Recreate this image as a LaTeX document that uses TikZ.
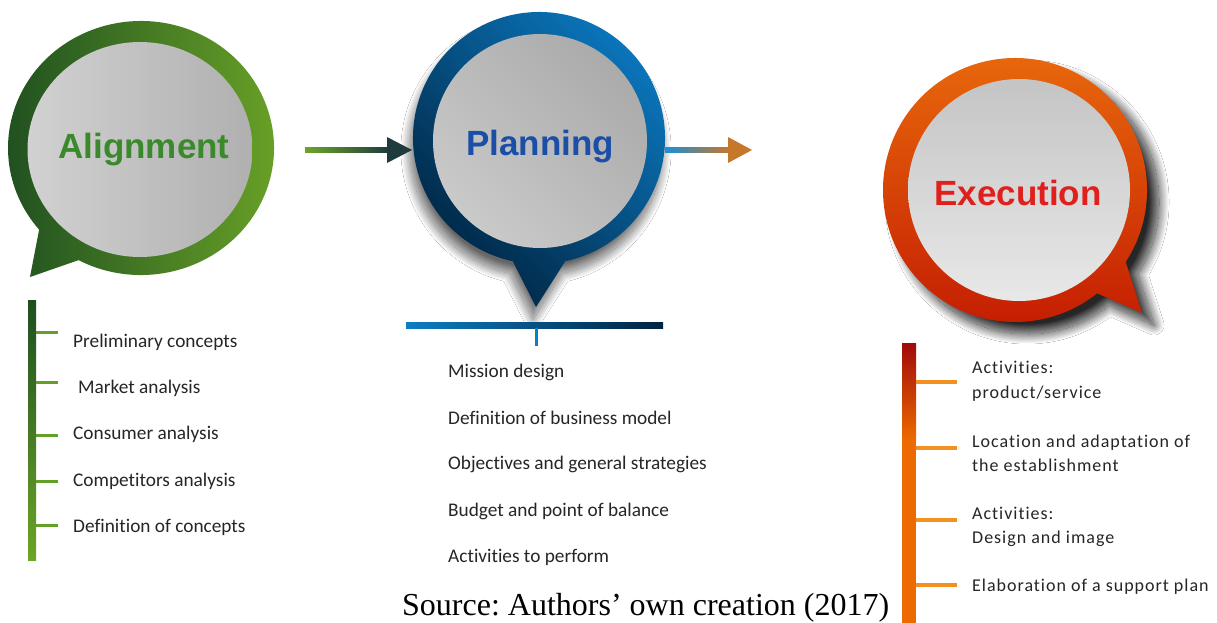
\documentclass[tikz,border=0pt]{standalone}
\usepackage{fontspec}
\setmainfont{Carlito}[RawFeature=-liga]
\newfontfamily\titlefont{Liberation Sans}
\newfontfamily\srcfont{Liberation Serif}
\newfontfamily\execfont{Carlito}[LetterSpace=5.5,RawFeature=-liga]
\usetikzlibrary{shadows.blur,calc}
\frenchspacing
\definecolor{gdark}{HTML}{1E4E20}
\definecolor{gmid}{HTML}{4C8E26}
\definecolor{glight}{HTML}{6CA527}
\definecolor{gtext}{HTML}{3A8A2C}
\definecolor{gtick}{HTML}{62A02A}
\definecolor{bdark}{HTML}{00233F}
\definecolor{bmid}{HTML}{0766A6}
\definecolor{blight}{HTML}{0B77BE}
\definecolor{btext}{HTML}{1B4EA6}
\definecolor{bbar}{HTML}{0D7DC4}
\definecolor{otop}{HTML}{EA6C0C}
\definecolor{obot}{HTML}{C41C02}
\definecolor{rtext}{HTML}{E0201C}
\definecolor{ored}{HTML}{A00A0A}
\definecolor{oorange}{HTML}{EC6A00}
\definecolor{otick}{HTML}{F39022}
\definecolor{txt}{HTML}{262626}
\definecolor{arrowdark}{HTML}{1F3B3E}
\definecolor{arroworange}{HTML}{C5782B}
\definecolor{arrowblue}{HTML}{1A8FD6}
\tikzset{
  title/.style={font=\titlefont\bfseries\fontsize{35}{35}\selectfont, inner sep=0pt, anchor=base},
  itemtxt/.style={font=\fontsize{19.3}{22}\selectfont, text=txt, inner sep=0pt, anchor=west},
  exectxt/.style={font=\execfont\fontsize{18}{24.5}\selectfont, text=txt, inner sep=0pt, anchor=west, align=left},
  gtickline/.style={draw=gtick, line width=3pt},
  otickline/.style={draw=otick, line width=3.5pt},
}
\begin{document}
\begin{tikzpicture}[x=1pt,y=1pt]
\useasboundingbox (0,0) rectangle (1217,-622);
\clip (0,0) rectangle (1217,-622);
\fill[white] (0,0) rectangle (1217,-622);

% ---------- Alignment bubble ----------
\coordinate (alC) at (141,-148);
\coordinate (alTip) at (30,-277);
\shade[left color=gdark, middle color=gmid, right color=glight]
  ($(alC)+(242:133 and 127)$) arc[start angle=242, end angle=580, x radius=133, y radius=127] -- (alTip) -- cycle;
\shade[left color=black!18, right color=black!31] (140,-149.5) ellipse[x radius=112.5, y radius=107.5];
\node[title, text=gtext] (alT) at (144,-158) {Alignment};

% ---------- Planning bubble ----------
\coordinate (plC) at (539,-138);
\coordinate (plTip) at (536,-307);
\shade[blur shadow={shadow xshift=-3pt, shadow yshift=-12pt, shadow blur radius=9pt, shadow blur steps=40, shadow opacity=60},
  top color=blight, middle color=bmid, bottom color=bdark, shading angle=-45]
  ($(plC)+(282:126)$) arc[start angle=282, end angle=618, radius=126] -- (plTip) -- cycle;
\shade[top color=black!33, bottom color=black!21, shading angle=-45] (540,-141) circle[radius=107];
\node[title, text=btext] (plT) at (540,-155) {Planning};

% ---------- Execution bubble ----------
\coordinate (exC) at (1015,-190);
\coordinate (exTip) at (1142,-313);
\shade[blur shadow={shadow xshift=12pt, shadow yshift=-12pt, shadow blur radius=10pt, shadow blur steps=40, shadow opacity=85},
  top color=otop, bottom color=obot]
  ($(exC)+(327:132)$) arc[start angle=327, end angle=668.5, radius=132] -- (exTip) -- cycle;
\shade[top color=black!23, bottom color=black!9] (1019,-190) circle[radius=111];
\node[title, text=rtext] (exT) at (1018,-205) {Execution};

% ---------- arrows ----------
\coordinate (a1s) at (305,-150);
\coordinate (a1e) at (412,-150);
\shade[left color=glight, right color=arrowdark] ($(a1s)+(0,2.5)$) rectangle ($(a1e)+(-24,-2.5)$);
\fill[arrowdark] ($(a1e)+(-25,13)$) -- (a1e) -- ($(a1e)+(-25,-13)$) -- cycle;

\coordinate (a2s) at (665,-150);
\coordinate (a2e) at (752,-150);
\shade[left color=arrowblue, right color=arroworange] ($(a2s)+(0,2.5)$) rectangle ($(a2e)+(-23,-2.5)$);
\fill[arroworange] ($(a2e)+(-24,13)$) -- (a2e) -- ($(a2e)+(-24,-13)$) -- cycle;

% ---------- Alignment list ----------
\shade[top color=gdark, middle color=gmid, bottom color=glight] (28,-300) rectangle (36,-560);
\node[itemtxt] (al1) at (73,-342) {Preliminary concepts};
\node[itemtxt] (al2) at (78,-388) {Market analysis};
\node[itemtxt] (al3) at (73,-434) {Consumer analysis};
\node[itemtxt] (al4) at (73,-481) {Competitors analysis};
\node[itemtxt] (al5) at (73,-527) {Definition of concepts};
\foreach \y in {332,382,435,481,525}{\draw[gtickline] (36,-\y) -- (58,-\y);}

% ---------- Planning list ----------
\shade[left color=bbar, middle color=bmid, right color=bdark] (406,-322) rectangle (663,-328);
\fill[bbar] (535,-328) rectangle (538,-346);
\node[itemtxt] (pl1) at (448,-372) {Mission design};
\node[itemtxt] (pl2) at (448,-418) {Definition of business model};
\node[itemtxt] (pl3) at (448,-464) {Objectives and general strategies};
\node[itemtxt] (pl4) at (448,-511) {Budget and point of balance};
\node[itemtxt] (pl5) at (448,-557) {Activities to perform};

% ---------- Execution list ----------
\shade[top color=ored, bottom color=oorange] (902,-343) rectangle (916,-440);
\fill[oorange] (902,-439.5) rectangle (916,-625);
\foreach \y in {382,448,520,585}{\draw[otickline] (916,-\y) -- (957,-\y);}
\node[exectxt] (ex1) at (972,-381) {Activities:\\product/service};
\node[exectxt] (ex2) at (972,-453.5) {Location and adaptation of\\the establishment};
\node[exectxt] (ex3) at (972,-527) {Activities:\\Design and image};
\node[exectxt] (ex4) at (972,-587) {Elaboration of a support plan};

% ---------- source ----------
\node[anchor=base west, inner sep=0pt, font=\srcfont\fontsize{32}{32}\selectfont] (src) at (402,-615) {Source: Authors’ own creation (2017)};
\end{tikzpicture}
\end{document}
